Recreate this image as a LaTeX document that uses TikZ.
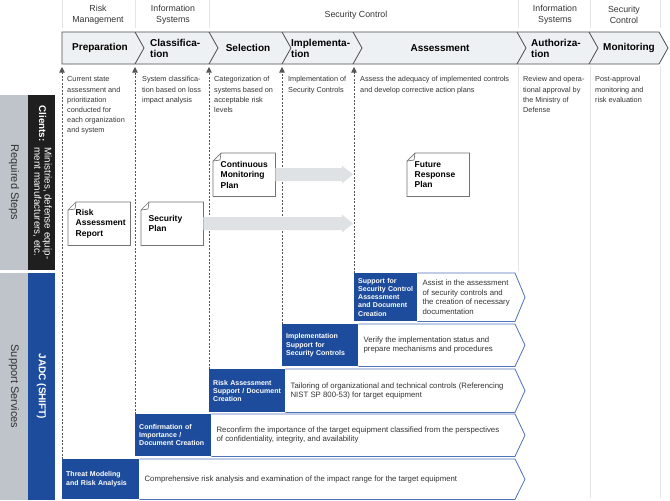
\documentclass[tikz,border=0pt]{standalone}
\usepackage{fontspec}
\setmainfont{Liberation Sans}
\usepackage{xcolor}
\usetikzlibrary{arrows.meta,positioning,calc}
\definecolor{jblue}{HTML}{1E4C9C}
\definecolor{jline}{HTML}{4F72B8}
\definecolor{barfill}{HTML}{EEF1F4}
\definecolor{bargrey}{HTML}{4D4D4D}
\definecolor{bandgrey}{HTML}{BEC4CA}
\definecolor{clientblk}{HTML}{1F1F1F}
\definecolor{txt}{HTML}{333333}
\definecolor{sepgrey}{HTML}{E3E6E9}
\definecolor{arrgrey}{HTML}{DEE2E5}
\definecolor{dashgrey}{HTML}{555555}

\begin{document}
\begin{tikzpicture}[x=1pt,y=-1pt,
  hdr/.style={font=\fontsize{8.8}{11}\selectfont,text=txt,align=center,inner sep=0pt},
  phase/.style={font=\fontsize{10}{11}\selectfont\bfseries,align=left,inner sep=0pt},
  desc/.style={anchor=north west,font=\fontsize{7.3}{10.2}\selectfont,text=txt,
               align=left,inner sep=0pt},
  doc/.style={anchor=north west,fill=white,minimum height=43pt,text width=47pt,
              inner xsep=7.5pt,font=\fontsize{8.5}{10.3}\selectfont\bfseries,align=left},
  docline/.style={draw=black!55,line width=0.7pt},
  svc/.style={anchor=north west,fill=jblue,text=white,inner xsep=4pt,
              font=\fontsize{7}{8.2}\selectfont\bfseries,align=left},
  svctxt/.style={font=\fontsize{7.8}{9.4}\selectfont,text=txt,align=left,inner sep=0pt},
  rowline/.style={draw=jline,line width=0.8pt},
  dasharr/.style={draw=dashgrey,line width=0.6pt,dash pattern=on 2pt off 1.5pt,
                  -{Triangle[length=5.5pt,width=5.5pt]}},
  grarr/.style={draw=arrgrey,line width=13pt,
                -{Triangle[length=11pt,width=18pt,line width=0pt]}},
  sepline/.style={draw=sepgrey,line width=0.8pt},
  band/.style={rotate=-90,inner sep=0pt,minimum height=28pt}]

\useasboundingbox (0,0) rectangle (670,501);

% header row
\foreach \x in {62,135,209,518,590,660}
  \draw[sepline] (\x,0) -- (\x,28);
\node[hdr] (h1) at (98,15) {Risk\\Management};
\node[hdr] (h2) at (173,15) {Information\\Systems};
\node[hdr] (h3) at (356,15) {Security Control};
\node[hdr] (h4) at (555,15) {Information\\Systems};
\node[hdr] (h5) at (624,15) {Security\\Control};

% phase bar
\draw[draw=bargrey,fill=barfill,line width=0.8pt]
  (62,32) -- (659,32) -- (668,48) -- (659,64) -- (62,64) -- cycle;
\foreach \x in {135,209,282,353,517,589}
  \draw[draw=bargrey,line width=0.8pt] (\x,32) -- (\x+9,48) -- (\x,64);
\node[phase] (prep) at (100,48) {Preparation};
\node[phase,anchor=west] (clas) at (150,48) {Classifica-\\tion};
\node[phase] (sel) at (248,48) {Selection};
\node[phase,anchor=west] (impl) at (291,48) {Implementa-\\tion};
\node[phase] (asmt) at (440,48) {Assessment};
\node[phase,anchor=west] (auth) at (531,48) {Authoriza-\\tion};
\node[phase] (mon) at (629,48) {Monitoring};

% column notes
\foreach \x/\y in {518/271,590/498,660/498}
  \draw[sepline] (\x,66) -- (\x,\y);
\node[desc] (d1) at (67,76.5) {Current state\\assessment and\\prioritization\\conducted for\\each organization\\and system};
\node[desc] (d2) at (142,76.5) {System classifica-\\tion based on loss\\impact analysis};
\node[desc] (d3) at (214,76.5) {Categorization of\\systems based on\\acceptable risk\\levels};
\node[desc] (d4) at (288,76.5) {Implementation of\\Security Controls};
\node[desc] (d5) at (360,76.5) {Assess the adequacy of implemented controls\\and develop corrective action plans};
\node[desc] (d6) at (523,76.5) {Review and opera-\\tional approval by\\the Ministry of\\Defense};
\node[desc] (d7) at (595,76.5) {Post-approval\\monitoring and\\risk evaluation};

% left bands
\node[band,fill=bandgrey,minimum width=175pt,text=txt,
      font=\fontsize{11}{12}\selectfont] (req) at (14,182.5) {Required Steps};
\node[band,fill=clientblk,minimum width=175pt,minimum height=27pt,text=white] (cli)
  at (41.5,182.5) {{\fontsize{9.8}{12}\selectfont\bfseries Clients:}\hspace{6pt}%
  {\fontsize{9.8}{10.2}\selectfont\begin{tabular}{@{}l@{}}Ministries, defense equip-\\
  ment manufacturers, etc.\end{tabular}}};
\node[band,fill=bandgrey,minimum width=227pt,text=txt,
      font=\fontsize{11}{12}\selectfont] (sup) at (14,386.5) {Support Services};
\node[band,fill=jblue,minimum width=227pt,minimum height=27pt,text=white,
      font=\fontsize{10}{12}\selectfont\bfseries] (jadc) at (41.5,386.5) {JADC (SHIFT)};

% support services
\node[svc,text width=55pt,minimum height=48pt] (ssc) at (354,273)
  {Support for\\Security Control\\Assessment\\and Document\\Creation};
\node[svctxt,right=5pt of ssc] (ssct)
  {Assist in the assessment\\of security controls and\\the creation of necessary\\documentation};
\node[svc,text width=68pt,minimum height=42pt] (isc) at (282,324)
  {Implementation\\Support for\\Security Controls};
\node[svctxt,right=5pt of isc] (isct)
  {Verify the implementation status and\\prepare mechanisms and procedures};
\node[svc,text width=68pt,minimum height=43pt] (ras) at (209,369)
  {Risk Assessment\\Support / Document\\Creation};
\node[svctxt,right=5pt of ras] (rast)
  {Tailoring of organizational and technical controls (Referencing\\NIST SP 800-53) for target equipment};
\node[svc,text width=68pt,minimum height=42pt] (coi) at (135,414)
  {Confirmation of\\Importance /\\Document Creation};
\node[svctxt,right=5pt of coi] (coit)
  {Reconfirm the importance of the target equipment classified from the perspectives\\of confidentiality, integrity, and availability};
\node[svc,text width=69pt,minimum height=40pt] (tmr) at (62,459)
  {Threat Modeling\\and Risk Analysis};
\node[svctxt,right=5pt of tmr] (tmrt)
  {Comprehensive risk analysis and examination of the impact range for the target equipment};

\coordinate (rx) at (515,0);
\coordinate (tx) at (525,0);
\foreach \n in {ssc,isc,ras,coi,tmr}
  \draw[rowline] (\n.north east) -- (\n.north east -| rx) -- (\n.east -| tx)
    -- (\n.south east -| rx) -- (\n.south east);

% phase links
\coordinate (barb) at (0,67);
\foreach \n in {ssc,isc,ras,coi,tmr}
  \draw[dasharr] (\n.north west) -- (\n.north west |- barb);

% documents
\node[doc] (rar) at (68,202) {Risk\\Assessment\\Report};
\node[doc] (spl) at (141,202) {Security\\Plan};
\node[doc] (cmp) at (213,153) {Continuous\\Monitoring\\Plan};
\node[doc] (frp) at (407,153) {Future\\Response\\Plan};
\foreach \n in {rar,spl,cmp,frp}{
  \draw[docline] ([xshift=8pt]\n.north west) -- (\n.north east) -- (\n.south east)
    -- (\n.south west) -- ([yshift=-8pt]\n.north west) -- cycle;
  \draw[docline] ([yshift=-8pt]\n.north west) -- ([xshift=7pt,yshift=-7pt]\n.north west)
    -- ([xshift=8pt]\n.north west);
}

\coordinate (cmpend) at (353,174.5);
\coordinate (splend) at (353,223.5);
\draw[grarr] (cmp.east) -- (cmpend);
\draw[grarr] (spl.east) -- (splend);
\end{tikzpicture}
\end{document}
